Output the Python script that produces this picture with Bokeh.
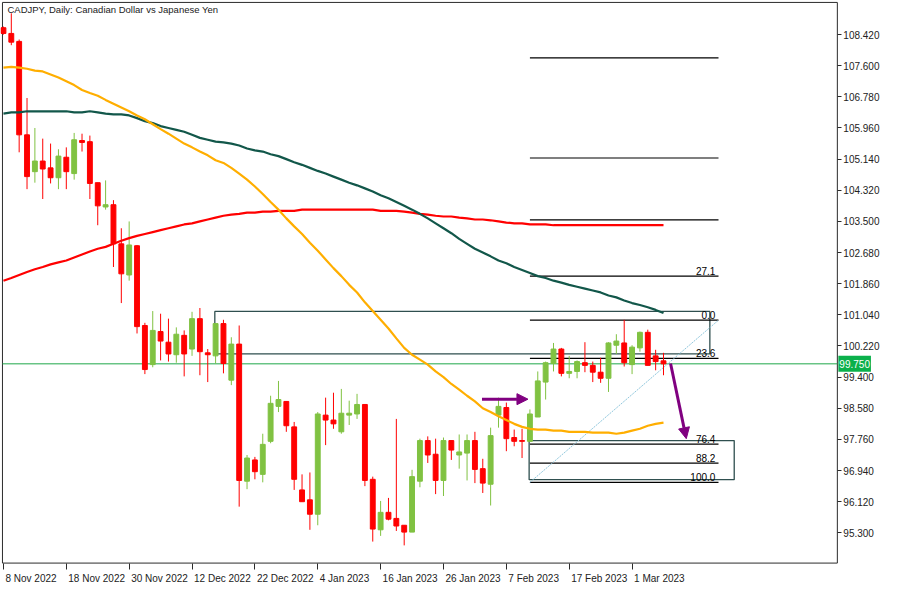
from bokeh.plotting import figure
from bokeh.models import (Range1d, FixedTicker, Label, Arrow, NormalHead,
                          ColumnDataSource, NumeralTickFormatter)
from bokeh.embed import file_html
from bokeh.resources import INLINE
from bokeh.core.properties import value

title_text = "CADJPY, Daily:  Canadian Dollar vs Japanese Yen"

opens = [108.60, 108.45, 108.24, 105.78, 104.81, 105.09, 104.91, 104.65, 105.19, 104.76,
         105.63, 105.60, 104.52, 103.88, 103.94, 102.91, 102.09, 102.86, 100.76, 99.73,
         100.60, 100.32, 99.99, 100.50, 100.14, 100.94, 100.04, 99.96, 100.81, 99.32,
         100.27, 96.66, 97.22, 96.84, 97.71, 98.63, 98.76, 98.09, 96.43, 96.17,
         95.79, 98.40, 98.27, 97.96, 98.40, 98.43, 98.68, 96.71, 95.38, 95.84,
         95.68, 95.50, 95.32, 96.66, 97.73, 97.37, 96.68, 97.73, 97.35, 97.40,
         97.73, 96.99, 96.58, 98.40, 98.60, 97.81, 97.73, 97.71, 98.35, 99.27,
         99.76, 100.14, 99.50, 99.55, 99.78, 99.71, 99.53, 99.37, 100.24, 100.30,
         99.73, 100.17, 100.58, 99.96, 99.83]
closes = [108.45, 108.22, 105.78, 104.68, 105.09, 104.88, 104.65, 105.22, 104.81, 105.65,
          105.58, 104.50, 103.91, 103.94, 102.91, 102.12, 102.88, 100.73, 99.60, 100.63,
          100.35, 100.01, 100.53, 100.01, 100.94, 100.07, 99.99, 100.81, 99.76, 100.27,
          96.68, 97.27, 96.91, 97.63, 98.71, 98.81, 98.12, 96.71, 96.12, 95.79,
          98.43, 98.27, 98.17, 98.45, 98.45, 98.68, 96.68, 95.40, 95.84, 95.66,
          95.48, 95.32, 96.78, 97.73, 97.35, 96.68, 97.73, 97.48, 97.43, 97.73,
          96.97, 96.61, 97.86, 98.63, 97.78, 97.71, 97.71, 98.43, 99.30, 99.78,
          100.14, 99.50, 99.55, 99.81, 99.71, 99.53, 99.37, 100.30, 100.35, 99.78,
          100.19, 100.58, 99.71, 99.81, 99.75]
highs = [108.63, 108.98, 108.29, 106.75, 105.96, 105.68, 105.55, 105.40, 105.45, 105.83,
         105.81, 105.76, 104.52, 104.58, 104.06, 103.32, 103.50, 102.88, 100.83, 101.14,
         101.07, 100.94, 100.71, 100.63, 101.12, 101.22, 100.14, 100.81, 100.91, 100.45,
         100.76, 97.35, 97.30, 97.91, 98.91, 99.30, 98.76, 98.22, 96.84, 96.89,
         98.48, 98.86, 98.99, 99.09, 98.78, 98.96, 98.68, 96.78, 96.14, 96.22,
         98.30, 95.50, 96.96, 97.78, 97.84, 97.78, 97.81, 97.73, 97.89, 97.89,
         97.96, 97.25, 98.07, 98.86, 98.73, 98.02, 98.04, 98.55, 99.55, 99.81,
         100.30, 100.17, 99.96, 99.84, 100.32, 99.81, 99.91, 100.32, 100.53, 100.91,
         100.24, 100.60, 100.65, 100.12, 100.04]
lows = [108.42, 108.14, 105.32, 104.35, 104.52, 104.09, 104.50, 104.35, 104.35, 104.60,
        105.34, 104.09, 103.40, 103.81, 102.30, 101.35, 101.94, 100.55, 99.48, 99.66,
        99.84, 99.81, 99.78, 99.42, 99.96, 99.45, 99.27, 99.76, 99.50, 99.19,
        95.99, 96.45, 96.71, 96.63, 97.66, 98.48, 97.96, 96.43, 96.12, 95.38,
        95.50, 97.61, 98.04, 97.91, 98.14, 98.30, 96.53, 95.07, 95.22, 95.63,
        95.35, 94.97, 95.32, 96.50, 97.14, 96.32, 96.27, 97.22, 96.99, 96.68,
        96.61, 96.35, 96.02, 98.07, 97.45, 97.58, 97.27, 97.71, 98.35, 98.81,
        99.55, 99.42, 99.37, 99.37, 99.53, 99.27, 99.25, 99.01, 100.01, 99.68,
        99.48, 100.07, 99.71, 99.58, 99.45]

ma_orange = [107.55, 107.57, 107.55, 107.52, 107.47, 107.45, 107.37, 107.29, 107.19, 107.09,
             106.96, 106.88, 106.81, 106.70, 106.60, 106.50, 106.40, 106.29, 106.19, 106.06,
             105.93, 105.81, 105.68, 105.55, 105.45, 105.34, 105.24, 105.11, 105.04, 104.91,
             104.76, 104.60, 104.42, 104.22, 104.01, 103.81, 103.58, 103.37, 103.17, 102.94,
             102.73, 102.50, 102.27, 102.06, 101.83, 101.63, 101.37, 101.14, 100.91, 100.68,
             100.42, 100.17, 99.99, 99.86, 99.73, 99.55, 99.40, 99.22, 99.07, 98.91,
             98.76, 98.58, 98.48, 98.37, 98.27, 98.17, 98.09, 98.04, 98.02, 98.02,
             97.99, 97.99, 97.96, 97.96, 97.96, 97.94, 97.94, 97.94, 97.91, 97.94,
             97.99, 98.04, 98.12, 98.17, 98.20]
ma_green = [106.34, 106.37, 106.37, 106.40, 106.40, 106.40, 106.40, 106.40, 106.40, 106.37,
            106.37, 106.40, 106.37, 106.34, 106.32, 106.32, 106.29, 106.22, 106.14, 106.09,
            106.01, 105.96, 105.91, 105.86, 105.78, 105.70, 105.65, 105.60, 105.58, 105.55,
            105.50, 105.42, 105.37, 105.34, 105.27, 105.22, 105.14, 105.06, 104.99, 104.91,
            104.83, 104.76, 104.68, 104.60, 104.52, 104.45, 104.37, 104.29, 104.19, 104.11,
            104.01, 103.91, 103.81, 103.70, 103.58, 103.45, 103.32, 103.19, 103.04, 102.91,
            102.78, 102.68, 102.58, 102.47, 102.40, 102.30, 102.22, 102.14, 102.06, 102.01,
            101.94, 101.89, 101.83, 101.78, 101.73, 101.68, 101.63, 101.55, 101.50, 101.42,
            101.35, 101.30, 101.24, 101.17, 101.09]
ma_red = [101.94, 102.01, 102.09, 102.17, 102.24, 102.30, 102.37, 102.42, 102.47, 102.55,
          102.63, 102.71, 102.78, 102.83, 102.91, 102.99, 103.06, 103.12, 103.17, 103.22,
          103.27, 103.32, 103.37, 103.42, 103.45, 103.50, 103.55, 103.60, 103.65, 103.68,
          103.70, 103.73, 103.73, 103.76, 103.76, 103.78, 103.78, 103.78, 103.81, 103.81,
          103.81, 103.81, 103.81, 103.81, 103.81, 103.81, 103.81, 103.81, 103.78, 103.78,
          103.78, 103.76, 103.73, 103.70, 103.68, 103.65, 103.63, 103.63, 103.60, 103.58,
          103.55, 103.55, 103.53, 103.50, 103.47, 103.45, 103.45, 103.42, 103.42, 103.42,
          103.40, 103.40, 103.40, 103.40, 103.40, 103.40, 103.40, 103.40, 103.40, 103.40,
          103.40, 103.40, 103.40, 103.40, 103.40]

date_ticks = [0, 8, 16, 24, 32, 40, 48, 56, 64, 72, 80]
date_labels = ["8 Nov 2022", "18 Nov 2022", "30 Nov 2022", "12 Dec 2022", "22 Dec 2022",
               "4 Jan 2023", "16 Jan 2023", "26 Jan 2023", "7 Feb 2023", "17 Feb 2023",
               "1 Mar 2023"]
price_ticks = [95.30, 96.12, 96.94, 97.76, 98.58, 99.40, 100.22, 101.04, 101.86,
               102.68, 103.50, 104.32, 105.14, 105.96, 106.78, 107.60, 108.42]
last_price = 99.75

fib_start, fib_end = 67, 91
fib_low, fib_high = 96.63, 100.90
fib_levels = [-161.8, -100.0, -61.8, -27.1, 0.0, 23.6, 76.4, 88.2, 100.0]
fib_texts = ["", "", "", "27.1", "0.0", "23.6", "76.4", "88.2", "100.0"]

zone_left = [26.9, 66.9]
zone_right = [89.9, 93.0]
zone_top = [101.13, 97.73]
zone_bottom = [100.01, 96.70]

arrow_x0 = [60.9, 84.9]
arrow_y0 = [98.82, 99.76]
arrow_x1 = [66.75, 86.9]
arrow_y1 = [98.82, 97.78]

# ---------------------------------------------------------------
UP = "#80C242"
DOWN = "#FF0000"
FONT = "Liberation Sans"
AX = "#2b2b2b"
# whole canvas in data units; the chart box (border) sits inside, price scale to its right
X0, X1 = -0.375, 112.125
Y0, Y1 = 93.94, 109.317
XB0, XB1 = -0.125, 106.125
YB0, YB1 = 94.504, 109.266
W, H = 884, 584

# approximate glyph widths (px at 10px Liberation Sans) to left-align date labels at their ticks
_cw = {" ": 2.78, "N": 7.22, "o": 5.56, "v": 5.0, "D": 7.22, "e": 5.56, "c": 5.0,
       "J": 5.0, "a": 5.56, "n": 5.56, "F": 6.11, "b": 5.56, "M": 8.33, "r": 3.33}
def text_w(s):
    return sum(_cw.get(ch, 5.56) for ch in s)
PX_PER_BAR = W / (X1 - X0)
label_centers = [round(t + (text_w(s) / 2 + 2.0) / PX_PER_BAR, 3)
                 for t, s in zip(date_ticks, date_labels)]

n = len(opens)
xs = list(range(n))
src = ColumnDataSource(dict(
    x=xs, o=opens, c=closes, h=highs, l=lows,
    top=[max(a, b) for a, b in zip(opens, closes)],
    bot=[min(a, b) for a, b in zip(opens, closes)],
    col=[UP if c >= o else DOWN for o, c in zip(opens, closes)],
))

p = figure(width=W, height=H, x_range=Range1d(X0, X1), y_range=Range1d(Y0, Y1),
           output_backend="svg", toolbar_location=None, y_axis_location="right",
           min_border=0, background_fill_color="white", border_fill_color="white")
p.grid.visible = False
p.outline_line_color = None

# price scale, pinned to the right edge of the chart box
ya = p.yaxis[0]
ya.fixed_location = XB1
ya.ticker = FixedTicker(ticks=price_ticks)
ya.formatter = NumeralTickFormatter(format="0.000")
ya.axis_line_color = None
ya.major_tick_out = 4
ya.major_tick_in = 0
ya.minor_tick_out = 0
ya.minor_tick_in = 0
ya.major_label_standoff = 2
ya.major_tick_line_color = AX
ya.major_label_text_font = FONT
ya.major_label_text_font_size = "10px"
ya.major_label_text_color = "#222222"

# time scale, pinned to the bottom edge of the chart box
xa = p.xaxis[0]
xa.fixed_location = YB0
xa.ticker = FixedTicker(ticks=label_centers, minor_ticks=date_ticks)
xa.major_label_overrides = {c: s for c, s in zip(label_centers, date_labels)}
xa.axis_line_color = None
xa.major_tick_out = 0
xa.major_tick_in = 0
xa.minor_tick_out = 6
xa.minor_tick_in = 0
xa.minor_tick_line_color = AX
xa.major_label_standoff = 4
xa.major_label_text_font = FONT
xa.major_label_text_font_size = "10px"
xa.major_label_text_color = "#222222"

# chart box border
p.quad(left=[XB0], right=[XB1], bottom=[YB0], top=[YB1], fill_color=None,
       line_color=AX, line_width=1)

# current price line and its tag on the price scale
p.segment(x0=[XB0], x1=[XB1], y0=[last_price], y1=[last_price],
          line_color="#1FA84A", line_width=1)
p.add_layout(Label(x=XB1, y=last_price, text=f"{last_price:.3f}", text_align="left",
                   text_baseline="middle", x_offset=1, text_font=FONT, text_font_size="10px",
                   text_color="white", background_fill_color="#0BB04B", padding=(1, 4)))

# zones
p.quad(left=zone_left, right=zone_right, top=zone_top, bottom=zone_bottom,
       fill_color=None, line_color="#2F4F4F", line_width=1.3)

# fibonacci
rng = fib_high - fib_low
fib_prices = [fib_high - lv / 100.0 * rng for lv in fib_levels]
p.segment(x0=[fib_start] * len(fib_prices), x1=[fib_end] * len(fib_prices),
          y0=fib_prices, y1=fib_prices, line_color="black", line_width=1.2)
p.line([fib_start, fib_end], [fib_low, fib_high], line_color="#8FC7DD", line_width=1,
       line_dash="2 1")
p.text(x=[fib_end - 0.4] * len(fib_prices), y=fib_prices, text=fib_texts,
       text_align="right", text_baseline="bottom", y_offset=-1,
       text_font=value(FONT), text_font_size="10px", text_color="black")

# candles
p.segment(x0="x", x1="x", y0="l", y1="h", line_color="col", line_width=1, source=src)
p.vbar(x="x", width=0.62, top="top", bottom="bot", fill_color="col", line_color="col",
       line_width=1, source=src)

# moving averages
p.line(xs, ma_red, line_color="#FF0000", line_width=2.2)
p.line(xs, ma_green, line_color="#12574A", line_width=2.2)
p.line(xs, ma_orange, line_color="#FFAE00", line_width=2.2)

# arrows
PURPLE = "#800080"
for a, b, c, d in zip(arrow_x0, arrow_y0, arrow_x1, arrow_y1):
    p.add_layout(Arrow(end=NormalHead(size=11, fill_color=PURPLE, line_color=PURPLE),
                       x_start=a, y_start=b, x_end=c, y_end=d,
                       line_color=PURPLE, line_width=3))

# title
p.add_layout(Label(x=XB0, y=YB1, text=title_text, text_align="left", text_baseline="middle",
                   x_offset=5, y_offset=-7, text_font=FONT, text_font_size="9.5px",
                   text_color="#222222"))

open("out.html", "w").write(file_html(p, INLINE))
